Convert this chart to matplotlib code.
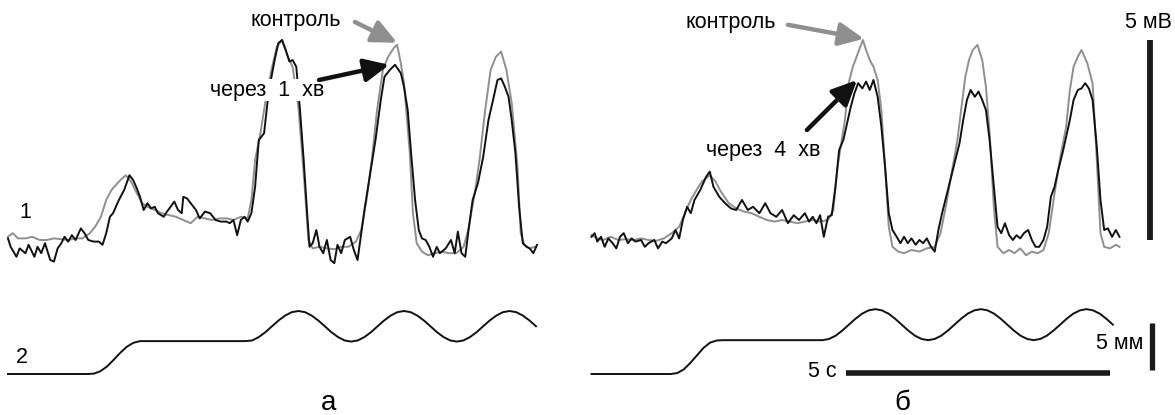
import matplotlib
matplotlib.use("Agg")
import numpy as np
import matplotlib.pyplot as plt

plt.rcParams['font.family'] = ['Liberation Sans', 'DejaVu Sans']

# ---- panel a: electrical activity (t, s; v, mV) ----
a_black_t = [0.00, 0.05, 0.16, 0.22, 0.33, 0.39, 0.50, 0.56, 0.63, 0.70, 0.80, 0.87, 0.94,
             1.01, 1.07, 1.14, 1.21, 1.28, 1.38, 1.45, 1.52, 1.62, 1.72, 1.79, 1.86, 1.93,
             1.99, 2.10, 2.20, 2.30, 2.37, 2.44, 2.50, 2.57, 2.64, 2.71, 2.78, 2.84, 2.95,
             3.01, 3.08, 3.15, 3.22, 3.29, 3.32, 3.39, 3.46, 3.56, 3.63, 3.73, 3.83, 3.93,
             4.03, 4.14, 4.20, 4.27, 4.34, 4.41, 4.48, 4.54, 4.61, 4.68, 4.75, 4.85, 4.92,
             4.99, 5.05, 5.12, 5.19, 5.26, 5.33, 5.39, 5.46, 5.53, 5.60, 5.67, 5.71, 5.77,
             5.84, 5.90, 5.97, 6.04, 6.11, 6.18, 6.24, 6.31, 6.38, 6.48, 6.55, 6.62, 6.69,
             6.76, 6.86, 6.96, 7.06, 7.13, 7.23, 7.33, 7.44, 7.50, 7.57, 7.64, 7.71, 7.78,
             7.84, 7.91, 7.98, 8.05, 8.12, 8.18, 8.29, 8.39, 8.46, 8.52, 8.59, 8.66, 8.73,
             8.80, 8.90, 9.00, 9.10, 9.20, 9.27, 9.34, 9.41, 9.48, 9.54, 9.61, 9.68, 9.75,
             9.82, 9.88, 9.95, 10.02]
a_black_v = [0.04, -0.17, -0.42, -0.21, -0.33, -0.12, -0.42, -0.17, -0.33, -0.08, -0.50, -0.54, -0.21,
             -0.08, 0.08, -0.04, 0.12, 0.00, 0.29, 0.17, 0.00, -0.04, -0.04, -0.12, 0.17, 0.58,
             0.67, 1.00, 1.25, 1.62, 1.50, 1.29, 1.08, 0.75, 0.92, 0.79, 0.83, 0.67, 0.58,
             0.71, 0.83, 0.96, 0.75, 0.67, 1.08, 1.04, 0.92, 0.75, 0.54, 0.71, 0.67, 0.50,
             0.46, 0.46, 0.42, 0.50, 0.12, 0.50, 0.58, 0.46, 0.67, 1.33, 2.50, 2.67, 3.50,
             4.08, 4.50, 4.92, 5.00, 4.75, 4.46, 4.50, 4.33, 3.25, 2.00, 0.58, -0.17, -0.08,
             0.25, -0.17, -0.33, 0.00, -0.50, -0.58, -0.12, -0.33, 0.00, 0.08, -0.25, -0.50, 0.17,
             0.83, 1.67, 2.50, 3.50, 4.08, 4.25, 4.38, 4.17, 3.83, 3.25, 2.08, 1.00, 0.25,
             0.04, 0.00, -0.17, -0.42, -0.17, -0.33, -0.21, 0.00, -0.33, 0.21, -0.33, -0.42, 0.33,
             1.00, 1.42, 2.08, 3.00, 3.58, 4.00, 4.04, 3.83, 3.58, 3.00, 2.17, 0.83, -0.08,
             -0.17, -0.21, -0.33, -0.12]

a_grey_t = [0.00, 0.09, 0.19, 0.33, 0.46, 0.60, 0.73, 0.87, 1.01, 1.14, 1.28, 1.41, 1.55,
            1.65, 1.76, 1.86, 1.96, 2.10, 2.23, 2.33, 2.44, 2.54, 2.64, 2.78, 2.91, 3.05,
            3.18, 3.32, 3.46, 3.59, 3.73, 3.86, 4.00, 4.14, 4.27, 4.41, 4.54, 4.61, 4.68,
            4.78, 4.88, 4.99, 5.09, 5.19, 5.29, 5.39, 5.50, 5.60, 5.69, 5.77, 5.90, 6.04,
            6.18, 6.31, 6.45, 6.59, 6.69, 6.79, 6.89, 6.99, 7.10, 7.20, 7.30, 7.37, 7.44,
            7.50, 7.61, 7.67, 7.74, 7.84, 7.95, 8.08, 8.22, 8.35, 8.49, 8.63, 8.73, 8.84,
            8.93, 9.03, 9.14, 9.24, 9.34, 9.44, 9.54, 9.65, 9.71, 9.78, 9.88, 9.98]
a_grey_v = [0.08, 0.17, 0.04, 0.04, 0.08, 0.00, 0.00, 0.04, 0.02, 0.00, 0.04, 0.04, 0.17,
            0.33, 0.58, 1.00, 1.25, 1.46, 1.62, 1.46, 1.17, 0.92, 0.83, 0.75, 0.67, 0.62,
            0.58, 0.50, 0.42, 0.58, 0.54, 0.50, 0.54, 0.54, 0.50, 0.58, 0.54, 1.00, 2.00,
            2.67, 3.50, 4.25, 4.83, 5.00, 4.62, 4.33, 3.33, 1.67, 0.00, -0.21, -0.17, -0.21,
            -0.23, -0.17, -0.17, -0.04, 0.25, 1.00, 2.00, 3.25, 4.25, 4.58, 4.79, 4.88, 4.42,
            3.92, 2.17, 0.67, -0.08, -0.29, -0.38, -0.33, -0.29, -0.33, -0.33, -0.17, 0.33, 1.17,
            2.00, 3.17, 4.25, 4.58, 4.71, 4.25, 3.42, 1.83, 0.17, -0.12, -0.21, -0.17]

# ---- panel b: electrical activity ----
b_black_t = [0.00, 0.06, 0.11, 0.18, 0.25, 0.32, 0.40, 0.47, 0.54, 0.61, 0.69, 0.76, 0.83,
             0.94, 1.01, 1.08, 1.19, 1.26, 1.34, 1.41, 1.52, 1.59, 1.66, 1.73, 1.81, 1.88,
             1.95, 2.06, 2.17, 2.24, 2.31, 2.42, 2.53, 2.64, 2.74, 2.85, 2.96, 3.06, 3.18,
             3.29, 3.39, 3.50, 3.61, 3.72, 3.83, 3.93, 4.04, 4.12, 4.19, 4.26, 4.33, 4.40,
             4.48, 4.55, 4.62, 4.69, 4.77, 4.84, 4.91, 4.98, 5.05, 5.13, 5.20, 5.27, 5.34,
             5.42, 5.49, 5.56, 5.63, 5.70, 5.78, 5.85, 5.92, 5.99, 6.06, 6.14, 6.21, 6.28,
             6.35, 6.43, 6.50, 6.57, 6.64, 6.75, 6.86, 6.97, 7.04, 7.11, 7.18, 7.26, 7.33,
             7.40, 7.47, 7.54, 7.62, 7.69, 7.76, 7.83, 7.91, 7.98, 8.05, 8.12, 8.19, 8.27,
             8.34, 8.41, 8.48, 8.56, 8.63, 8.70, 8.77, 8.84, 8.92, 8.99, 9.06, 9.13, 9.21,
             9.28, 9.35, 9.42, 9.49, 9.57, 9.64, 9.71, 9.78, 9.86, 9.93, 10.00]
b_black_v = [0.08, 0.17, -0.04, 0.08, -0.17, 0.04, -0.08, -0.21, 0.08, 0.17, -0.08, 0.04, -0.04,
             0.00, -0.17, -0.08, 0.00, -0.21, -0.04, -0.08, 0.04, 0.25, 0.04, 0.50, 0.83, 0.67,
             1.00, 1.25, 1.58, 1.71, 1.33, 1.08, 0.92, 0.79, 0.75, 1.00, 0.75, 0.83, 0.67,
             0.92, 0.67, 0.58, 0.75, 0.42, 0.62, 0.50, 0.67, 0.46, 0.58, 0.42, 0.62, 0.08,
             0.58, 0.62, 1.33, 2.25, 2.50, 2.92, 3.33, 3.67, 3.92, 3.79, 3.96, 3.75, 4.00,
             3.58, 2.83, 1.83, 0.67, 0.25, 0.08, -0.08, 0.08, -0.08, 0.04, -0.12, 0.00, -0.08,
             0.04, -0.17, -0.29, 0.25, 0.67, 1.25, 1.83, 2.42, 3.00, 3.50, 3.75, 3.58, 3.71,
             3.50, 3.25, 2.50, 1.33, 0.33, 0.17, 0.42, 0.12, 0.00, 0.12, 0.04, 0.17, 0.25,
             0.00, -0.17, -0.17, 0.00, 0.33, 1.08, 1.33, 1.75, 2.17, 2.58, 3.00, 3.50, 3.75,
             3.79, 3.92, 3.79, 3.50, 2.33, 1.00, 0.25, 0.29, 0.08, 0.25, 0.08]

b_grey_t = [0.00, 0.11, 0.22, 0.36, 0.51, 0.65, 0.79, 0.94, 1.08, 1.23, 1.37, 1.52, 1.66,
            1.77, 1.88, 1.99, 2.09, 2.24, 2.35, 2.45, 2.60, 2.74, 2.89, 3.03, 3.18, 3.32,
            3.47, 3.61, 3.75, 3.90, 4.04, 4.19, 4.33, 4.48, 4.58, 4.66, 4.73, 4.80, 4.87,
            4.95, 5.02, 5.09, 5.14, 5.20, 5.27, 5.34, 5.42, 5.49, 5.56, 5.63, 5.70, 5.81,
            5.92, 6.06, 6.21, 6.35, 6.50, 6.61, 6.71, 6.82, 6.93, 7.00, 7.08, 7.15, 7.22,
            7.31, 7.40, 7.47, 7.54, 7.62, 7.69, 7.80, 7.91, 8.01, 8.12, 8.23, 8.34, 8.45,
            8.56, 8.66, 8.77, 8.88, 8.99, 9.06, 9.13, 9.21, 9.28, 9.39, 9.49, 9.57, 9.64,
            9.71, 9.82, 9.93, 10.00]
b_grey_v = [0.12, 0.04, 0.00, 0.08, 0.00, 0.02, 0.00, 0.04, 0.00, -0.02, 0.04, 0.17, 0.33,
            0.67, 1.00, 1.25, 1.46, 1.62, 1.46, 1.21, 0.92, 0.79, 0.71, 0.67, 0.58, 0.50,
            0.46, 0.50, 0.46, 0.42, 0.46, 0.50, 0.46, 0.50, 0.75, 1.83, 2.42, 3.00, 3.92,
            4.33, 4.58, 4.83, 5.00, 4.75, 4.50, 4.33, 4.00, 3.25, 1.83, 0.33, -0.17, -0.29,
            -0.33, -0.25, -0.29, -0.21, -0.17, 0.17, 0.83, 1.67, 2.50, 3.25, 4.08, 4.50, 4.75,
            4.88, 4.50, 3.83, 2.67, 0.83, -0.17, -0.33, -0.25, -0.33, -0.21, -0.38, -0.29, -0.33,
            -0.25, 0.17, 1.17, 2.08, 2.83, 3.75, 4.33, 4.58, 4.75, 4.42, 3.92, 2.00, 0.17,
            -0.17, -0.21, -0.12, -0.17]

# ---- mechanical records (mm), sampled every 0.125 s ----
mech_dt = 0.125
mech_a = [0, 0, 0, 0, 0, 0, 0, 0, 0, 0, 0, 0, 0,
          0.04, 0.30, 0.80, 1.50, 2.25, 2.90, 3.32, 3.50,
          3.50, 3.50, 3.50, 3.50, 3.50, 3.50, 3.50, 3.50,
          3.50, 3.50, 3.50, 3.50, 3.50, 3.50, 3.50, 3.50,
          3.57, 3.93, 4.45, 5.08, 5.70, 6.22, 6.58, 6.70,
          6.58, 6.22, 5.70, 5.08, 4.45, 3.93, 3.57, 3.45,
          3.57, 3.93, 4.45, 5.08, 5.70, 6.22, 6.58, 6.70,
          6.58, 6.22, 5.70, 5.08, 4.45, 3.93, 3.57, 3.45,
          3.57, 3.93, 4.45, 5.08, 5.70, 6.22, 6.58, 6.70,
          6.58, 6.22, 5.70, 5.08]
mech_b = [0, 0, 0, 0, 0, 0, 0, 0, 0, 0, 0, 0, 0,
          0.10, 0.50, 1.20, 2.00, 2.80, 3.35, 3.57, 3.60,
          3.60, 3.60, 3.60, 3.60, 3.60, 3.60, 3.60, 3.60,
          3.60, 3.60, 3.60, 3.60, 3.60, 3.60, 3.60,
          3.73, 4.08, 4.62, 5.25, 5.88, 6.42, 6.77, 6.90,
          6.77, 6.42, 5.88, 5.25, 4.62, 4.08, 3.73, 3.60,
          3.73, 4.08, 4.62, 5.25, 5.88, 6.42, 6.77, 6.90,
          6.77, 6.42, 5.88, 5.25, 4.62, 4.08, 3.73, 3.60,
          3.73, 4.08, 4.62, 5.25, 5.88, 6.42, 6.77, 6.90,
          6.77, 6.42, 5.88, 5.25]

GREY = '#8f8f8f'
BLACK = '#111111'
W, H = 1175, 415


def px_axes(fig, left, top, width, height):
    return fig.add_axes([left / W, 1 - (top + height) / H, width / W, height / H])


fig = plt.figure(figsize=(W / 100, H / 100), dpi=100)

# electrical axes: 52.8 px per s, 40 px per mV, 0 mV at y=240
ax_a = px_axes(fig, 8 - 0.1 * 52.8, 10, 10.4 * 52.8, 270)
ax_a.set_xlim(-0.1, 10.3)
ax_b = px_axes(fig, 591.5 - 0.1 * 52.8, 10, 11.1 * 52.8, 270)
ax_b.set_xlim(-0.1, 11.0)
# mechanical axes: 9.4 px per mm, 0 mm at y=374
mx_a = px_axes(fig, 8 - 0.1 * 52.8, 298.8, 10.4 * 52.8, 95.9)
mx_a.set_xlim(-0.1, 10.3)
mx_b = px_axes(fig, 591.5 - 0.1 * 52.8, 298.8, 11.1 * 52.8, 95.9)
mx_b.set_xlim(-0.1, 11.0)

for ax in (ax_a, ax_b):
    ax.set_ylim(-1.0, 5.75)
    ax.axis('off')
for ax in (mx_a, mx_b):
    ax.set_ylim(-2.2, 8.0)
    ax.axis('off')

ax_a.plot(a_grey_t, a_grey_v, color=GREY, lw=1.4, zorder=2)
ax_a.plot(a_black_t, a_black_v, color=BLACK, lw=1.4, zorder=3)
ax_b.plot(b_grey_t, b_grey_v, color=GREY, lw=1.4, zorder=2)
ax_b.plot(b_black_t, b_black_v, color=BLACK, lw=1.4, zorder=3)

mx_a.plot(np.arange(len(mech_a)) * mech_dt, mech_a, color=BLACK, lw=1.4)
mx_b.plot(np.arange(len(mech_b)) * mech_dt, mech_b, color=BLACK, lw=1.4)

fs = 15.5
arrow_style = '-|>,head_length=0.75,head_width=0.35'

# annotations, panel a
ax_a.text(5.45, 5.5, 'контроль', fontsize=fs, ha='center', va='center')
ax_a.annotate('', xy=(7.37, 4.93), xytext=(6.57, 5.45),
              arrowprops=dict(arrowstyle=arrow_style, color=GREY, lw=3.2,
                              mutation_scale=20, shrinkA=0, shrinkB=0))
ax_a.text(3.83, 3.75, 'через  1  хв', fontsize=fs, ha='left', va='center', zorder=5,
          bbox=dict(facecolor='white', edgecolor='none', pad=0.5))
ax_a.annotate('', xy=(7.22, 4.38), xytext=(5.89, 4.0),
              arrowprops=dict(arrowstyle=arrow_style, color=BLACK, lw=3.2,
                              mutation_scale=20, shrinkA=0, shrinkB=0), zorder=6)
ax_a.text(0.32, 0.68, '1', fontsize=fs, ha='center', va='center')

# annotations, panel b
ax_b.text(2.64, 5.45, 'контроль', fontsize=fs, ha='center', va='center')
ax_b.annotate('', xy=(5.16, 5.03), xytext=(3.72, 5.38),
              arrowprops=dict(arrowstyle=arrow_style, color=GREY, lw=3.2,
                              mutation_scale=20, shrinkA=0, shrinkB=0))
ax_b.text(2.17, 2.25, 'через  4  хв', fontsize=fs, ha='left', va='center')
ax_b.annotate('', xy=(5.03, 4.0), xytext=(4.08, 2.75),
              arrowprops=dict(arrowstyle=arrow_style, color=BLACK, lw=3.2,
                              mutation_scale=20, shrinkA=0, shrinkB=0))

# scale bars
ax_b.plot([10.58, 10.58], [0, 5], color='#1a1a1a', lw=4.2, solid_capstyle='butt', clip_on=False)
ax_b.text(10.54, 5.45, '5 мВ', fontsize=fs, ha='center', va='center')
mx_b.plot([4.82, 9.82], [0.1, 0.1], color='#1a1a1a', lw=4.0, solid_capstyle='butt')
mx_b.text(4.65, 0.3, '5 с', fontsize=fs, ha='right', va='center')
mx_b.plot([10.62, 10.62], [0.4, 5.4], color='#1a1a1a', lw=3.8, solid_capstyle='butt', clip_on=False)
mx_b.text(10.45, 3.2, '5 мм', fontsize=fs, ha='right', va='center')
mx_a.text(0.26, 1.8, '2', fontsize=fs, ha='center', va='center')

# panel letters
fig.text(329 / W, 1 - 410 / H, 'а', fontsize=20, ha='center', va='baseline')
fig.text(902 / W, 1 - 410 / H, 'б', fontsize=20, ha='center', va='baseline')

fig.savefig('out.png', dpi=100, facecolor='white')
